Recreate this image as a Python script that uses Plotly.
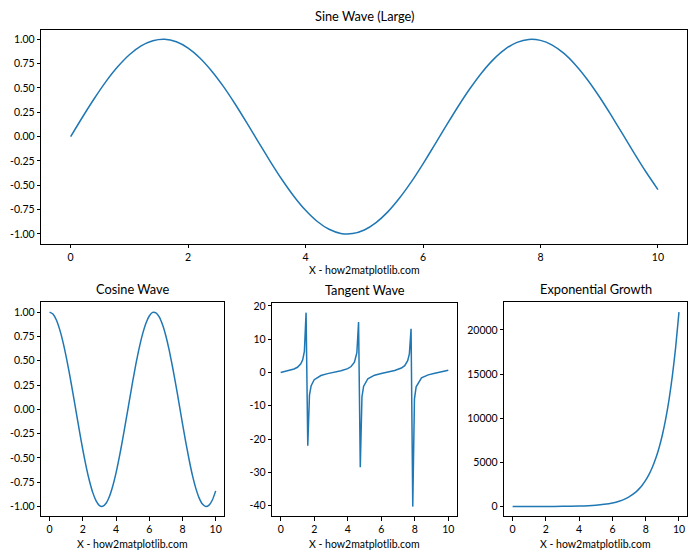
import plotly.graph_objects as go

# ---- data ----
x_wave = [0.0, 0.2, 0.4, 0.6, 0.8, 1.0, 1.2, 1.4, 1.6, 1.8, 2.0, 2.2, 2.4, 2.6, 2.8, 3.0,
          3.2, 3.4, 3.6, 3.8, 4.0, 4.2, 4.4, 4.6, 4.8, 5.0, 5.2, 5.4, 5.6, 5.8, 6.0, 6.2,
          6.4, 6.6, 6.8, 7.0, 7.2, 7.4, 7.6, 7.8, 8.0, 8.2, 8.4, 8.6, 8.8, 9.0, 9.2, 9.4,
          9.6, 9.8, 10.0]
sine_vals = [0.0, 0.199, 0.389, 0.565, 0.717, 0.841, 0.932, 0.985, 1.0, 0.974, 0.909, 0.808,
             0.675, 0.516, 0.335, 0.141, -0.058, -0.256, -0.443, -0.612, -0.757, -0.872,
             -0.952, -0.994, -0.996, -0.959, -0.883, -0.773, -0.631, -0.465, -0.279, -0.083,
             0.117, 0.312, 0.494, 0.657, 0.794, 0.899, 0.968, 0.999, 0.989, 0.941, 0.855,
             0.734, 0.585, 0.412, 0.223, 0.025, -0.174, -0.366, -0.544]
cosine_vals = [1.0, 0.980, 0.921, 0.825, 0.697, 0.540, 0.362, 0.170, -0.029, -0.227, -0.416,
               -0.589, -0.737, -0.857, -0.942, -0.990, -0.998, -0.967, -0.897, -0.791, -0.654,
               -0.490, -0.307, -0.112, 0.087, 0.284, 0.469, 0.635, 0.776, 0.886, 0.960, 0.997,
               0.993, 0.950, 0.869, 0.754, 0.608, 0.438, 0.252, 0.054, -0.146, -0.339, -0.519,
               -0.680, -0.811, -0.911, -0.975, -0.999, -0.985, -0.933, -0.839]

x_tan = [0.0, 0.2, 0.5, 0.8, 1.0, 1.2, 1.3131, 1.4141, 1.5152, 1.6162, 1.7172, 1.8182, 2.0,
         2.4, 2.8, 3.2, 3.6, 4.0, 4.2, 4.4, 4.5455, 4.6465, 4.7475, 4.8485, 4.9495, 5.2, 5.6,
         6.0, 6.4, 6.8, 7.2, 7.4, 7.5758, 7.6768, 7.7778, 7.8788, 7.9798, 8.0808, 8.4, 8.8,
         9.2, 9.6, 10.0]
tan_vals = [0.0, 0.203, 0.546, 1.030, 1.557, 2.572, 3.79, 6.33, 17.97, -22.01, -6.78, -3.96,
            -2.185, -0.916, -0.356, 0.058, 0.494, 1.158, 1.778, 3.096, 5.94, 15.15, -28.48,
            -7.30, -4.14, -1.886, -0.813, -0.291, 0.117, 0.568, 1.313, 2.049, 3.55, 5.58,
            13.10, -40.31, -7.91, -4.33, -1.646, -0.721, -0.229, 0.177, 0.648]

x_exp = [0.0, 1.0, 2.0, 3.0, 4.0, 5.0, 5.5, 6.0, 6.4, 6.8, 7.0, 7.2, 7.4, 7.6, 7.8, 8.0, 8.2,
         8.4, 8.6, 8.8, 9.0, 9.2, 9.4, 9.6, 9.8, 10.0]
exp_vals = [1.0, 2.7, 7.4, 20.1, 54.6, 148.4, 244.7, 403.4, 601.8, 897.8, 1096.6, 1339.4,
            1636.0, 1998.2, 2440.6, 2981.0, 3641.0, 4447.1, 5431.7, 6634.2, 8103.1, 9897.1,
            12088.4, 14764.8, 18033.7, 22026.5]

titles = ["Sine Wave (Large)", "Cosine Wave", "Tangent Wave", "Exponential Growth"]
xlabel = "X - how2matplotlib.com"

x_ticks = [0, 2, 4, 6, 8, 10]
x_ticktext = ["0", "2", "4", "6", "8", "10"]
trig_yticks = [1.0, 0.75, 0.5, 0.25, 0.0, -0.25, -0.5, -0.75, -1.0]
trig_yticktext = ["1.00", "0.75", "0.50", "0.25", "0.00", "-0.25", "-0.50", "-0.75", "-1.00"]
tan_yticks = [20, 10, 0, -10, -20, -30, -40]
tan_yticktext = ["20", "10", "0", "-10", "-20", "-30", "-40"]
exp_yticks = [0, 5000, 10000, 15000, 20000]
exp_yticktext = ["0", "5000", "10000", "15000", "20000"]

# ---- figure ----
W, H = 700, 560
BLUE = "#1f77b4"
FONT = "Lato"
TICK_SIZE = 10.5
TITLE_SIZE = 12.8

fig = go.Figure()
series = [(x_wave, sine_vals, "spline"), (x_wave, cosine_vals, "spline"),
          (x_tan, tan_vals, "linear"), (x_exp, exp_vals, "spline")]
for i, (xs, ys, shape) in enumerate(series):
    sfx = "" if i == 0 else str(i + 1)
    fig.add_trace(go.Scatter(x=xs, y=ys, mode="lines",
                             line=dict(color=BLUE, width=1.5, shape=shape, smoothing=0.6),
                             xaxis="x" + sfx, yaxis="y" + sfx, showlegend=False,
                             hoverinfo="skip"))

# domains in pixels: (left, right, top, bottom)
boxes = [(41.3, 687.3, 26.7, 242.0),
         (41.3, 224.0, 301.0, 516.0),
         (272.3, 456.7, 301.5, 516.0),
         (504.3, 687.3, 301.0, 516.0)]
yranges = [[-1.1, 1.1], [-1.1, 1.1], [-43.2, 20.9], [-1100, 23127]]
yticks = [(trig_yticks, trig_yticktext), (trig_yticks, trig_yticktext),
          (tan_yticks, tan_yticktext), (exp_yticks, exp_yticktext)]

axis_common = dict(showline=True, linecolor="black", linewidth=1, mirror=True,
                   ticks="outside", ticklen=3.5, tickwidth=1, tickcolor="black",
                   showgrid=False, zeroline=False,
                   tickfont=dict(family=FONT, size=TICK_SIZE, color="black"))

annotations = []
for i, (l, r, t, b) in enumerate(boxes):
    sfx = "" if i == 0 else str(i + 1)
    xd = [l / W, r / W]
    yd = [1 - b / H, 1 - t / H]
    fig.layout["xaxis" + sfx] = dict(domain=xd, range=[-0.5, 10.5], anchor="y" + sfx,
                                     tickvals=x_ticks, ticktext=x_ticktext, **axis_common)
    fig.layout["yaxis" + sfx] = dict(domain=yd, range=yranges[i], anchor="x" + sfx,
                                     tickvals=yticks[i][0], ticktext=yticks[i][1],
                                     **axis_common)
    cx = (xd[0] + xd[1]) / 2
    annotations.append(dict(text=titles[i], x=cx, y=yd[1], xref="paper", yref="paper",
                            xanchor="center", yanchor="bottom",
                            yshift=4 if i == 0 else 3, showarrow=False,
                            font=dict(family=FONT, size=TITLE_SIZE, color="black")))
    annotations.append(dict(text=xlabel, x=cx, y=yd[0], xref="paper", yref="paper",
                            xanchor="center", yanchor="middle",
                            yshift=-26 if i == 0 else -28, showarrow=False,
                            font=dict(family=FONT, size=TICK_SIZE, color="black")))

fig.update_layout(width=W, height=H, margin=dict(l=0, r=0, t=0, b=0),
                  paper_bgcolor="white", plot_bgcolor="white",
                  annotations=annotations, showlegend=False)

fig.write_html("out.html", config={"displayModeBar": False},
               post_script="document.body.style.margin='0px';"
                           "document.body.style.overflow='hidden';")
